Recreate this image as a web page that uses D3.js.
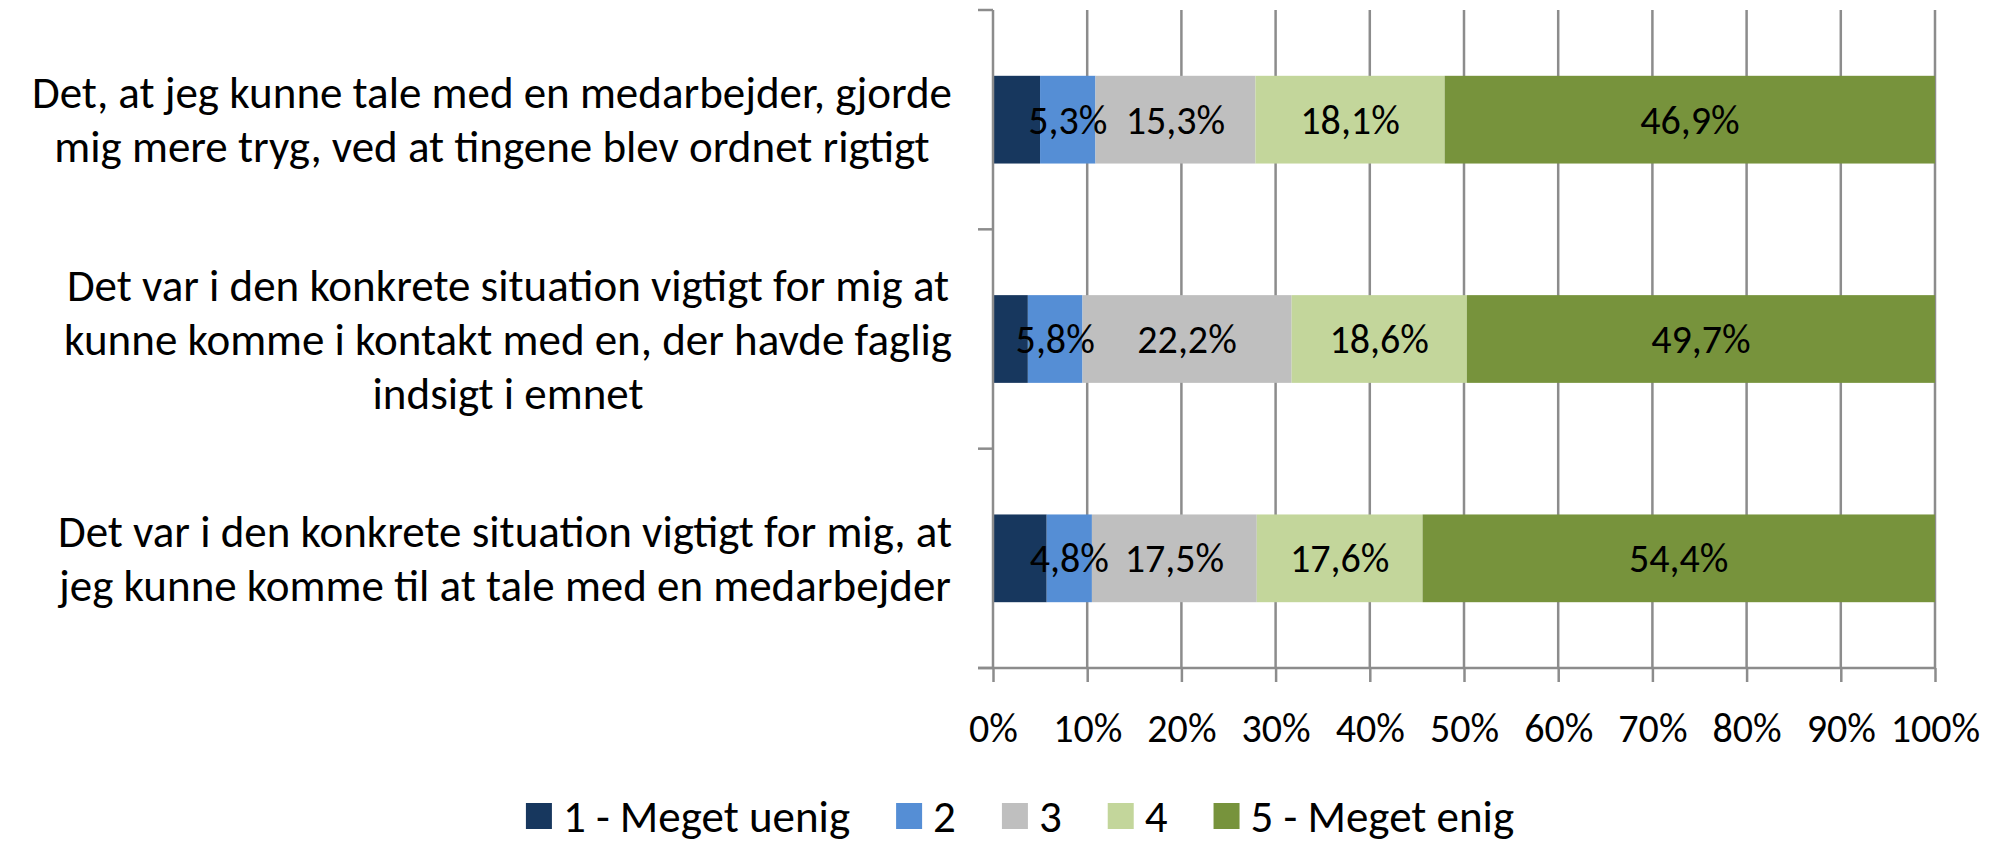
<!DOCTYPE html>
<html lang="da">
<head>
<meta charset="UTF-8">
<script src="https://d3js.org/d3.v7.min.js"></script>
<style>
  body { margin: 0; background: #fff; }
  svg text { font-family: Carlito, Calibri, Lato, sans-serif; fill: #000; }
</style>
</head>
<body>
<svg id="chart" width="1995" height="846"></svg>
<script>
  // question labels, one array of lines per bar
  const categories = [
    ["Det, at jeg kunne tale med en medarbejder, gjorde", "mig mere tryg, ved at tingene blev ordnet rigtigt"],
    ["Det var i den konkrete situation vigtigt for mig at", "kunne komme i kontakt med en, der havde faglig", "indsigt i emnet"],
    ["Det var i den konkrete situation vigtigt for mig, at", "jeg kunne komme til at tale med en medarbejder"]
  ];
  const seriesNames = ["1 - Meget uenig", "2", "3", "4", "5 - Meget enig"];
  const seriesColors = ["#17375E", "#558ED5", "#BFBFBF", "#C3D69B", "#77933C"];
  // answers in percent, per series (first series carries no label in the source)
  const s1 = [4.5, 3.7, 5.7];
  const s2 = [5.3, 5.8, 4.8];
  const s3 = [15.3, 22.2, 17.5];
  const s4 = [18.1, 18.6, 17.6];
  const s5 = [46.9, 49.7, 54.4];
  const xTicks = [0, 0.1, 0.2, 0.3, 0.4, 0.5, 0.6, 0.7, 0.8, 0.9, 1];

  const series = [s1, s2, s3, s4, s5];
  const svg = d3.select("#chart");
  const fontSize = 40;     // numbers
  const textSize = 45;     // category labels and legend
  const margin = {left: 993, right: 60, top: 10, bottom: 178};
  const width = 1995, height = 846;
  const gridColor = "#8c8c8c";

  // build a table for d3.stack, normalised to 100% per row
  const rows = categories.map((c, i) => {
    const r = {idx: i};
    series.forEach((s, j) => r["s" + j] = s[i]);
    return r;
  });
  const keys = series.map((s, j) => "s" + j);
  const stacked = d3.stack().keys(keys).offset(d3.stackOffsetExpand)(rows);

  const x = d3.scaleLinear().domain([0, 1]).range([margin.left, width - margin.right]);
  const y = d3.scaleBand().domain(d3.range(categories.length))
    .range([margin.top, height - margin.bottom]).paddingInner(0.6).paddingOuter(0.3);

  // vertical gridlines
  svg.append("g").selectAll("line").data(xTicks.slice(1)).join("line")
    .attr("x1", d => x(d)).attr("x2", d => x(d))
    .attr("y1", margin.top).attr("y2", height - margin.bottom)
    .attr("stroke", gridColor).attr("stroke-width", 2.5);

  // bars
  const layers = svg.append("g").selectAll("g").data(stacked).join("g")
    .attr("fill", (d, i) => seriesColors[i]);
  layers.selectAll("rect").data(d => d).join("rect")
    .attr("x", d => x(d[0]))
    .attr("width", d => x(d[1]) - x(d[0]))
    .attr("y", d => y(d.data.idx))
    .attr("height", y.bandwidth());

  // value labels
  const fmt = v => d3.format(".1f")(v).replace(".", ",") + "%";
  stacked.forEach((layer, j) => {
    if (j === 0) return;
    svg.append("g").selectAll("text").data(layer).join("text")
      .attr("x", d => (x(d[0]) + x(d[1])) / 2)
      .attr("y", d => y(d.data.idx) + y.bandwidth() / 2)
      .attr("dy", "0.35em")
      .attr("text-anchor", "middle")
      .attr("font-size", fontSize)
      .text(d => fmt(series[j][d.data.idx]));
  });

  // x axis
  const xAxis = svg.append("g")
    .attr("transform", `translate(0,${height - margin.bottom})`)
    .call(d3.axisBottom(x).tickValues(xTicks).tickFormat(d3.format(".0%")).tickSize(14).tickPadding(32));
  xAxis.select(".domain").attr("d", `M${x(0) - 15},0H${x(1)}`);
  xAxis.selectAll("path, line").attr("stroke", gridColor).attr("stroke-width", 2.5);
  xAxis.selectAll("text").attr("font-size", fontSize).attr("font-family", null).attr("fill", "#000")
    .attr("dy", "0.71em");

  // y axis: line with ticks at category boundaries
  const yAx = svg.append("g");
  yAx.append("line").attr("x1", x(0)).attr("x2", x(0))
    .attr("y1", margin.top).attr("y2", height - margin.bottom)
    .attr("stroke", gridColor).attr("stroke-width", 2.5);
  const plotH = height - margin.bottom - margin.top;
  yAx.selectAll("line.tick").data(d3.range(categories.length + 1)).join("line")
    .attr("class", "tick")
    .attr("x1", x(0) - 15).attr("x2", x(0))
    .attr("y1", i => margin.top + i * plotH / categories.length)
    .attr("y2", i => margin.top + i * plotH / categories.length)
    .attr("stroke", gridColor).attr("stroke-width", 2.5);

  // category labels: centred block, right edge near the axis
  const lineH = textSize * 1.2;
  const labelRight = x(0) - 41;
  categories.forEach((lines, i) => {
    const g = svg.append("g");
    const t = g.selectAll("text").data(lines).join("text")
      .attr("font-size", textSize)
      .attr("text-anchor", "middle")
      .attr("dy", "0.35em")
      .text(d => d);
    let w = 0;
    t.each(function() { w = Math.max(w, this.getComputedTextLength()); });
    const cy = y(i) + y.bandwidth() / 2;
    t.attr("x", labelRight - w / 2)
      .attr("y", (d, k) => cy + (k - (lines.length - 1) / 2) * lineH);
  });

  // legend
  const legend = svg.append("g").attr("transform", `translate(0,${height - 30})`);
  const items = legend.selectAll("g").data(seriesNames).join("g");
  items.append("rect").attr("width", 26).attr("height", 26).attr("y", -13)
    .attr("fill", (d, i) => seriesColors[i]);
  items.append("text").attr("x", 37).attr("dy", "0.35em").attr("font-size", textSize).text(d => d);
  let pos = 0;
  const gap = 46;
  const starts = [];
  items.each(function() {
    starts.push(pos);
    pos += 37 + this.querySelector("text").getComputedTextLength() + gap;
  });
  const total = pos - gap;
  const legendCenter = 1020;
  items.attr("transform", (d, i) => `translate(${legendCenter - total / 2 + starts[i]},0)`);
</script>
</body>
</html>
